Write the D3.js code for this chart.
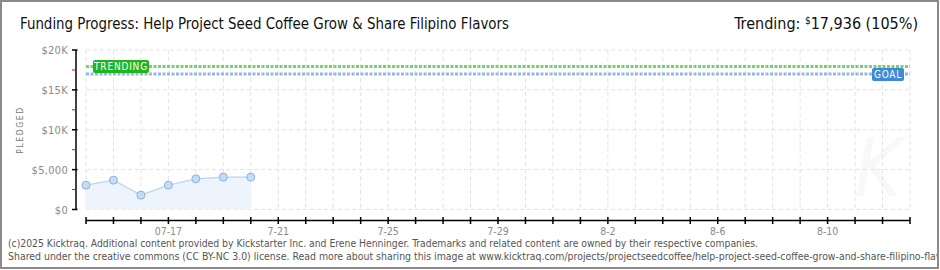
<!DOCTYPE html>
<html lang="en">
<head>
<meta charset="UTF-8">
<title>Funding Progress</title>
<script src="https://d3js.org/d3.v7.min.js"></script>
<style>
  body { margin: 0; background: #fff; }
  svg text { font-family: "DejaVu Sans Condensed", "DejaVu Sans", sans-serif; }
</style>
</head>
<body>
<div id="chart"></div>
<script>
// data
const days = ["2025-07-14", "2025-07-15", "2025-07-16", "2025-07-17", "2025-07-18", "2025-07-19", "2025-07-20"];
const pledged = [3050, 3680, 1800, 3060, 3850, 4060, 4060];
const goal = 17000;
const trending = 17936;
const yTicks = [0, 5000, 10000, 15000, 20000];
const yTickLabels = ["$0", "$5,000", "$10K", "$15K", "$20K"];
const xLabelDays = ["2025-07-17", "2025-07-21", "2025-07-25", "2025-07-29", "2025-08-02", "2025-08-06", "2025-08-10"];
const xLabels = ["07-17", "7-21", "7-25", "7-29", "8-2", "8-6", "8-10"];
const startDay = "2025-07-14", endDay = "2025-08-13";

const W = 940, H = 270;
const parse = d3.utcParse("%Y-%m-%d");

const svg = d3.select("#chart").append("svg")
    .attr("width", W).attr("height", H);

svg.append("defs").append("clipPath").attr("id", "inner")
    .append("rect").attr("x", 2).attr("y", 2).attr("width", W - 5).attr("height", H - 5);

svg.append("rect").attr("width", W).attr("height", H).attr("fill", "#fff");

const x = d3.scaleUtc().domain([parse(startDay), parse(endDay)]).range([86, 910]);
const y = d3.scaleLinear().domain([0, 20000]).range([209.5, 50]);

// watermark
svg.append("text")
    .attr("x", 878).attr("y", 196)
    .attr("text-anchor", "middle")
    .attr("font-size", 80).attr("font-style", "italic")
    .attr("fill", "#f8f8f8")
    .text("K");

// grid
const allDays = d3.utcDay.range(parse(startDay), d3.utcDay.offset(parse(endDay), 1));
svg.append("g").selectAll("line").data(allDays).join("line")
    .attr("x1", d => x(d)).attr("x2", d => x(d))
    .attr("y1", 50).attr("y2", 209.5)
    .attr("stroke", "#e3e3e3").attr("stroke-dasharray", "4,3");
svg.append("g").selectAll("line").data(yTicks).join("line")
    .attr("x1", 86).attr("x2", 910)
    .attr("y1", d => y(d)).attr("y2", d => y(d))
    .attr("stroke", "#e3e3e3").attr("stroke-dasharray", "4,3");

// pledged area + line + points
const pts = days.map((d, i) => ({ date: parse(d), v: pledged[i] }));
svg.append("path").datum(pts)
    .attr("d", d3.area().x(d => x(d.date)).y0(y(0)).y1(d => y(d.v)))
    .attr("fill", "#edf4fc");
svg.append("path").datum(pts)
    .attr("d", d3.line().x(d => x(d.date)).y(d => y(d.v)))
    .attr("fill", "none").attr("stroke", "#b9d5f2").attr("stroke-width", 1.2);
svg.append("g").selectAll("circle").data(pts).join("circle")
    .attr("cx", d => x(d.date)).attr("cy", d => y(d.v)).attr("r", 4)
    .attr("fill", "#c3dcf7").attr("stroke", "#8fb1d9").attr("stroke-width", 1);

// trending and goal lines
svg.append("line")
    .attr("x1", 86).attr("x2", 910).attr("y1", y(trending)).attr("y2", y(trending))
    .attr("stroke", "#7bcf6f").attr("stroke-width", 3).attr("stroke-dasharray", "3,1.5");
svg.append("line")
    .attr("x1", 86).attr("x2", 910).attr("y1", y(goal)).attr("y2", y(goal))
    .attr("stroke", "#93b9e3").attr("stroke-width", 3).attr("stroke-dasharray", "3,1.5");

// labels on those lines
const tg = svg.append("g").attr("transform", `translate(93,${y(trending) - 6.5})`);
tg.append("rect").attr("width", 56).attr("height", 13).attr("rx", 2).attr("fill", "#1fb51f");
tg.append("text").attr("x", 28).attr("y", 10).attr("text-anchor", "middle")
    .attr("font-size", 10).attr("fill", "#fff").attr("letter-spacing", 0.8).text("TRENDING");
const gg = svg.append("g").attr("transform", `translate(872,${y(goal) - 6})`);
gg.append("rect").attr("width", 32).attr("height", 13).attr("rx", 2).attr("fill", "#3d8ad9");
gg.append("text").attr("x", 16).attr("y", 10).attr("text-anchor", "middle")
    .attr("font-size", 10).attr("fill", "#fff").attr("letter-spacing", 0.8).text("GOAL");

// y axis
const yAxis = svg.append("g").attr("transform", "translate(76,0)");
yAxis.append("line").attr("y1", 50).attr("y2", y(0)).attr("stroke", "#000").attr("stroke-width", 1.5);
yAxis.selectAll(".maj").data(yTicks).join("line")
    .attr("x1", -4).attr("x2", 1.5).attr("y1", d => y(d)).attr("y2", d => y(d))
    .attr("stroke", "#000").attr("stroke-width", 1.5);
yAxis.selectAll(".min").data(d3.range(2500, 20000, 5000)).join("line")
    .attr("x1", -4).attr("x2", 0).attr("y1", d => y(d)).attr("y2", d => y(d))
    .attr("stroke", "#e00").attr("stroke-width", 1);
yAxis.selectAll("text").data(yTicks).join("text")
    .attr("x", -8).attr("y", d => y(d) + 4)
    .attr("text-anchor", "end").attr("font-size", 11).attr("fill", "#8a8a8a")
    .attr("letter-spacing", 0.3)
    .text((d, i) => yTickLabels[i]);
svg.append("text")
    .attr("transform", "translate(23,130) rotate(-90)")
    .attr("text-anchor", "middle").attr("font-size", 8.5).attr("fill", "#777")
    .attr("letter-spacing", 1.6).text("PLEDGED");

// x axis
const xAxis = svg.append("g").attr("transform", "translate(0,220.5)");
xAxis.append("line").attr("x1", 86).attr("x2", 910).attr("stroke", "#000").attr("stroke-width", 1.5);
xAxis.selectAll("line.t").data(allDays).join("line").attr("class", "t")
    .attr("x1", d => x(d)).attr("x2", d => x(d)).attr("y1", -3.5).attr("y2", 3.5)
    .attr("stroke", "#000").attr("stroke-width", 1.5);
xAxis.selectAll("text").data(xLabelDays).join("text")
    .attr("x", d => x(parse(d))).attr("y", 14.5)
    .attr("text-anchor", "middle").attr("font-size", 10.5).attr("fill", "#8a8a8a")
    .text((d, i) => xLabels[i]);

// title
svg.append("text")
    .attr("x", 20).attr("y", 29).attr("font-size", 16).attr("fill", "#111")
    .attr("textLength", 489).attr("lengthAdjust", "spacingAndGlyphs")
    .text("Funding Progress: Help Project Seed Coffee Grow & Share Filipino Flavors");
const tr = svg.append("text")
    .attr("x", 918).attr("y", 29).attr("text-anchor", "end").attr("font-size", 16).attr("fill", "#111");
tr.append("tspan").text("Trending:  ");
tr.append("tspan").attr("font-size", 10).attr("dy", -5).text("$");
tr.append("tspan").attr("dy", 5).text(d3.format(",")(trending) + " (" + Math.floor(trending / goal * 100) + "%)");

// footer
const foot = svg.append("g").attr("clip-path", "url(#inner)");
foot.append("text")
    .attr("x", 8).attr("y", 246.5).attr("font-size", 10).attr("fill", "#555")
    .attr("textLength", 750).attr("lengthAdjust", "spacingAndGlyphs")
    .text("(c)2025 Kicktraq. Additional content provided by Kickstarter Inc. and Erene Henninger. Trademarks and related content are owned by their respective companies.");
foot.append("text")
    .attr("x", 8).attr("y", 259.5).attr("font-size", 10).attr("fill", "#555")
    .attr("textLength", 951).attr("lengthAdjust", "spacingAndGlyphs")
    .text("Shared under the creative commons (CC BY-NC 3.0) license. Read more about sharing this image at www.kicktraq.com/projects/projectseedcoffee/help-project-seed-coffee-grow-and-share-filipino-flavors/");

// frame on top
svg.append("rect")
    .attr("x", 1).attr("y", 1).attr("width", W - 3).attr("height", H - 3)
    .attr("fill", "none").attr("stroke", "#8a8a8a").attr("stroke-width", 2);
</script>
</body>
</html>
